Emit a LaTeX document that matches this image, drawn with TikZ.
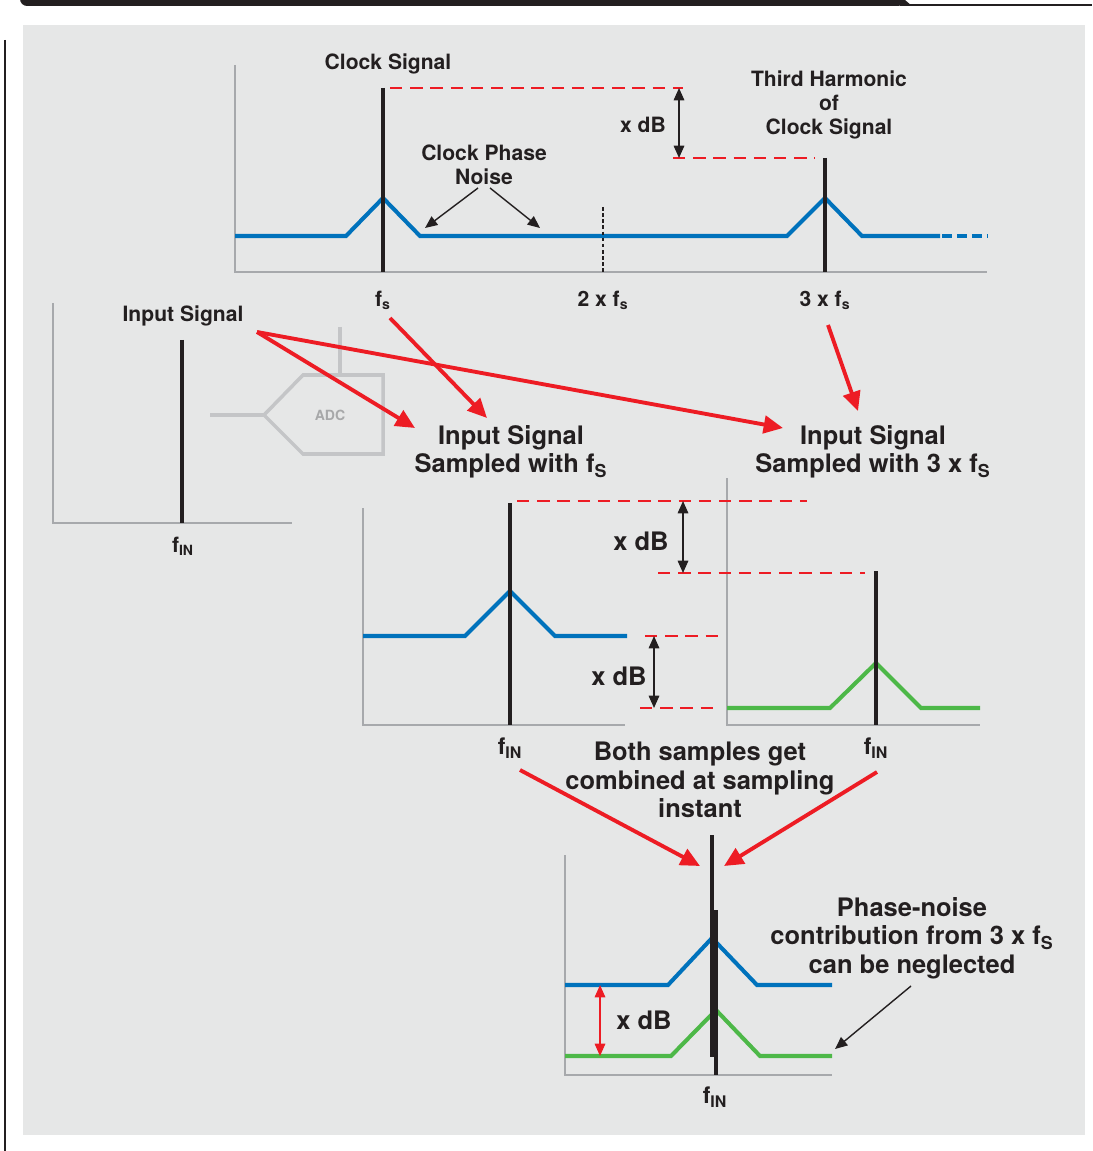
\documentclass[tikz,border=0pt]{standalone}
\usepackage{fontspec}
\setmainfont{TeX Gyre Heros}
\usetikzlibrary{arrows.meta}
\definecolor{panelgray}{HTML}{E6E7E7}
\definecolor{axisgray}{HTML}{A7A9AC}
\definecolor{adcgray}{HTML}{C4C5C7}
\definecolor{sigblack}{HTML}{231F20}
\definecolor{noiseblue}{HTML}{0072BC}
\definecolor{noisegreen}{HTML}{4DB848}
\definecolor{flowred}{HTML}{ED1C24}
\begin{document}
\begin{tikzpicture}[x=0.02cm, y=-0.02cm,
  axisline/.style = {draw=axisgray, line width=1.1pt},
  tone/.style = {draw=sigblack, line width=2.3pt},
  bluefloor/.style = {draw=noiseblue, line width=2.3pt},
  greenfloor/.style = {draw=noisegreen, line width=2.3pt},
  levelmark/.style = {draw=flowred, line width=1.4pt, dash pattern=on 7pt off 4.5pt},
  flowarrow/.style = {draw=flowred, line width=2.2pt, -{Triangle[length=11pt,width=10pt]}},
  pointer/.style = {draw=sigblack, line width=0.8pt, -{Triangle[length=7pt,width=6pt]}},
  dbarrow/.style = {draw=sigblack, line width=0.8pt, {Triangle[length=7pt,width=6pt]}-{Triangle[length=7pt,width=6pt]}},
  smalllbl/.style = {font=\fontsize{12}{13.6}\selectfont\bfseries, text=sigblack, align=center, inner sep=0pt},
  biglbl/.style = {font=\fontsize{14.5}{16.2}\selectfont\bfseries, text=sigblack, align=center, inner sep=0pt}
]
  \useasboundingbox (0,0) rectangle (1092,1151);
  % page frame
  \fill[panelgray] (23,25) rectangle (1085,1135);
  \fill[sigblack, rounded corners=4pt] (20,-8) rectangle (905,6);
  \fill[sigblack] (900,-8) -- (905,-8) -- (905,0) -- (912,6) -- (900,6) -- cycle;
  \draw[sigblack, line width=0.6pt] (910,5) -- (1092,5);
  \draw[sigblack, line width=1.1pt] (5,40) -- (5,1151);

  % clock spectrum
  \draw[axisline] (235,65) -- (235,272) -- (987,272);
  \draw[bluefloor] (235,236) -- (346,236) -- (383,198) -- (420,236) -- (787,236)
    -- (825,198) -- (862,236) -- (940,236);
  \draw[bluefloor, dash pattern=on 5.5pt off 3pt] (942,236) -- (987,236);
  \draw[tone] (383,88) -- (383,272);
  \draw[tone] (825,158) -- (825,272);
  \draw[sigblack, line width=0.7pt, dash pattern=on 2pt off 1.5pt] (603,207) -- (603,272);
  \draw[levelmark] (390,88) -- (683,88);
  \draw[levelmark] (673,158) -- (815,158);
  \coordinate (clktop) at (679,88);
  \coordinate (harmtop) at (679,158);
  \draw[dbarrow] (clktop) -- (harmtop);
  \node[smalllbl] (dbtop) at (643,125) {x dB};
  \node[smalllbl] (clklbl) at (388,64) {Clock Signal};
  \node[smalllbl] (harmlbl) at (829,105) {Third Harmonic\\of\\Clock Signal};
  \node[smalllbl] (noiselbl) at (484,165) {Clock Phase\\Noise};
  \coordinate (noiseoutL) at (478,188);
  \coordinate (noiseoutR) at (490,188);
  \coordinate (noiseL) at (425,228);
  \coordinate (noiseR) at (540,228);
  \draw[pointer] (noiseoutL) -- (noiseL);
  \draw[pointer] (noiseoutR) -- (noiseR);
  \node[smalllbl] (fslbl) at (383,300) {f\textsubscript{s}};
  \node[smalllbl] (twofslbl) at (603,300) {2 x f\textsubscript{s}};
  \node[smalllbl] (threefslbl) at (825,300) {3 x f\textsubscript{s}};

  % input spectrum and ADC
  \draw[axisline] (53,303) -- (53,523) -- (292,523);
  \draw[tone] (182,340) -- (182,523);
  \node[smalllbl] (inlbl) at (183,316) {Input Signal};
  \node[smalllbl] (finlbl) at (183,546) {f\textsubscript{IN}};
  \draw[adcgray, line width=2pt] (210,415) -- (264,415);
  \draw[adcgray, line width=2pt] (340,327) -- (340,375);
  \draw[adcgray, line width=2pt] (264,415) -- (303,375) -- (383,375) -- (383,454) -- (303,454) -- cycle;
  \node[font=\fontsize{8}{9}\selectfont\bfseries, text=adcgray!85!black, inner sep=0pt] (adc) at (330,415) {ADC};

  % sampled spectra
  \node[biglbl] (sampA) at (511,452) {Input Signal\\Sampled with f\textsubscript{S}};
  \node[biglbl] (sampB) at (873,452) {Input Signal\\Sampled with 3 x f\textsubscript{S}};
  \coordinate (inout) at (257,332);
  \coordinate (fsout) at (390,318);
  \coordinate (threefsout) at (828,325);
  \coordinate (sampAleft) at (415,428);
  \coordinate (sampAtop) at (487,418);
  \coordinate (sampBleft) at (783,428);
  \coordinate (sampBtop) at (858,411);
  \draw[flowarrow] (inout) -- (sampAleft);
  \draw[flowarrow] (inout) -- (sampBleft);
  \draw[flowarrow] (fsout) -- (sampAtop);
  \draw[flowarrow] (threefsout) -- (sampBtop);

  \draw[axisline] (363,508) -- (363,725) -- (625,725);
  \draw[bluefloor] (363,636) -- (465,636) -- (510,591) -- (555,636) -- (627,636);
  \draw[tone] (510,503) -- (510,725);
  \draw[axisline] (727,478) -- (727,725) -- (980,725);
  \draw[greenfloor] (727,708) -- (830,708) -- (876,663) -- (921,708) -- (980,708);
  \draw[tone] (876,571) -- (876,725);
  \draw[levelmark] (517,501) -- (807,501);
  \draw[levelmark] (658,573) -- (865,573);
  \draw[levelmark] (645,636) -- (722,636);
  \draw[levelmark] (640,708) -- (713,708);
  \coordinate (atop) at (683,501);
  \coordinate (btop) at (683,573);
  \coordinate (afloor) at (654,636);
  \coordinate (bfloor) at (654,708);
  \draw[dbarrow] (atop) -- (btop);
  \draw[dbarrow] (afloor) -- (bfloor);
  \node[biglbl] (dbmidA) at (641,541) {x dB};
  \node[biglbl] (dbmidB) at (619,676) {x dB};
  \node[smalllbl, font=\fontsize{13}{14}\selectfont\bfseries] (finA) at (510,748) {f\textsubscript{IN}};
  \node[smalllbl, font=\fontsize{13}{14}\selectfont\bfseries] (finB) at (876,748) {f\textsubscript{IN}};
  \node[biglbl] (combinelbl) at (700,780) {Both samples get\\combined at sampling\\instant};

  % combined spectrum
  \coordinate (finAout) at (520,770);
  \coordinate (finBout) at (877,772);
  \coordinate (sumleft) at (700,866);
  \coordinate (sumright) at (724,866);
  \draw[flowarrow] (finAout) -- (sumleft);
  \draw[flowarrow] (finBout) -- (sumright);
  \draw[axisline] (565,855) -- (565,1075) -- (832,1075);
  \draw[bluefloor] (565,985) -- (668,985) -- (712,938) -- (757,985) -- (832,985);
  \draw[greenfloor] (565,1056) -- (671,1056) -- (716,1010) -- (760,1056) -- (832,1056);
  \draw[tone] (712,835) -- (712,1057);
  \draw[tone] (716,910) -- (716,1075);
  \coordinate (bluelvl) at (600,985);
  \coordinate (greenlvl) at (600,1056);
  \draw[draw=flowred, line width=0.8pt, {Triangle[length=7pt,width=6pt]}-{Triangle[length=7pt,width=6pt]}] (bluelvl) -- (greenlvl);
  \node[biglbl] (dbbot) at (644,1020) {x dB};
  \node[smalllbl, font=\fontsize{13}{14}\selectfont\bfseries] (finC) at (715,1097) {f\textsubscript{IN}};
  \node[biglbl] (neglectlbl) at (912,938) {Phase-noise\\contribution from 3 x f\textsubscript{S}\\can be neglected};
  \coordinate (neglectout) at (911,986);
  \coordinate (greenend) at (835,1049);
  \draw[pointer] (neglectout) -- (greenend);
\end{tikzpicture}
\end{document}
